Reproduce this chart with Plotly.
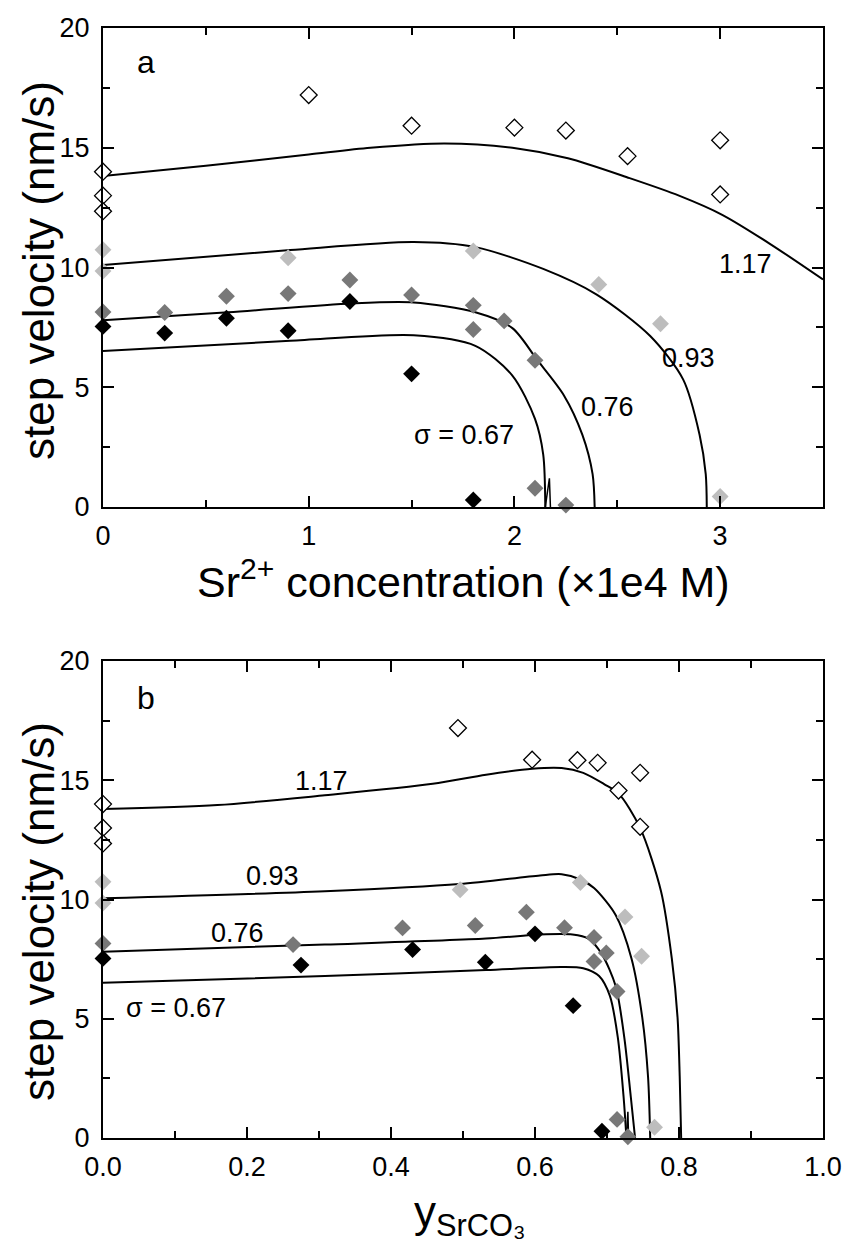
import plotly.graph_objects as go

W, H = 847, 1243

# ---------------- Panel a : data vs Sr2+ concentration (x1e4 M) ----------------
a117_x = [0, 0, 0, 1.0, 1.5, 2.0, 2.25, 2.55, 3.0, 3.0]
a117_y = [14.0, 13.0, 12.35, 17.2, 15.92, 15.84, 15.72, 14.65, 15.31, 13.05]
a093_x = [0, 0, 0.9, 1.8, 2.41, 2.71, 3.0]
a093_y = [10.74, 9.85, 10.41, 10.69, 9.29, 7.65, 0.44]
a076_x = [0, 0.3, 0.6, 0.9, 1.2, 1.5, 1.8, 1.8, 1.95, 2.1, 2.1, 2.25]
a076_y = [8.14, 8.12, 8.8, 8.91, 9.48, 8.85, 8.42, 7.41, 7.77, 6.13, 0.78, 0.08]
a067_x = [0, 0.3, 0.6, 0.9, 1.2, 1.5, 1.8]
a067_y = [7.54, 7.26, 7.88, 7.36, 8.58, 5.56, 0.29]

# model curves, panel a
fa117_x = [0, 0.5, 1.0, 1.3, 1.66, 1.99, 2.26, 2.56, 2.8, 3.01, 3.24, 3.5]
fa117_y = [13.82, 14.25, 14.72, 15.0, 15.18, 15.0, 14.56, 13.73, 13.0, 12.2, 11.0, 9.5]
fa093_x = [0, 0.91, 1.51, 1.81, 2.14, 2.40, 2.66, 2.82, 2.90, 2.93, 2.935]
fa093_y = [10.1, 10.73, 11.06, 10.85, 9.94, 8.87, 7.14, 5.33, 3.02, 1.37, 0]
fa076_x = [0, 0.61, 1.21, 1.51, 1.81, 1.99, 2.11, 2.24, 2.33, 2.38, 2.39]
fa076_y = [7.8, 8.13, 8.5, 8.54, 8.13, 7.47, 6.15, 4.67, 3.02, 1.37, 0]
fa067_x = [0, 0.91, 1.51, 1.81, 1.99, 2.10, 2.14, 2.15]
fa067_y = [6.51, 6.94, 7.17, 6.73, 5.49, 3.68, 2.19, 0]
fa067_tail_x = [2.15, 2.17, 2.175]
fa067_tail_y = [0, 1.2, 0]

# ---------------- Panel b : data vs y_SrCO3 ----------------
b117_x = [0, 0, 0, 0.493, 0.596, 0.659, 0.687, 0.716, 0.746, 0.746]
b117_y = [14.0, 13.0, 12.35, 17.19, 15.86, 15.84, 15.73, 14.57, 15.31, 13.05]
b093_x = [0, 0, 0.496, 0.663, 0.725, 0.748, 0.766]
b093_y = [10.74, 9.85, 10.41, 10.71, 9.27, 7.62, 0.45]
b076_x = [0, 0.264, 0.416, 0.517, 0.588, 0.641, 0.682, 0.682, 0.699, 0.714, 0.714, 0.729]
b076_y = [8.16, 8.11, 8.81, 8.91, 9.47, 8.82, 8.41, 7.40, 7.76, 6.14, 0.78, 0.05]
b067_x = [0, 0.275, 0.430, 0.531, 0.600, 0.653, 0.693]
b067_y = [7.53, 7.25, 7.90, 7.37, 8.56, 5.55, 0.28]

fb117_x = [0, 0.159, 0.308, 0.458, 0.532, 0.596, 0.637, 0.667, 0.697, 0.716, 0.746, 0.775, 0.790, 0.798, 0.801, 0.803]
fb117_y = [13.79, 13.96, 14.37, 14.85, 15.23, 15.48, 15.51, 15.31, 14.82, 14.45, 13.0, 10.35, 7.53, 5.05, 2.57, 0]
fb093_x = [0, 0.308, 0.495, 0.607, 0.637, 0.663, 0.682, 0.712, 0.734, 0.749, 0.757, 0.760]
fb093_y = [10.05, 10.35, 10.65, 11.01, 11.06, 10.84, 10.48, 9.35, 7.53, 5.05, 2.57, 0]
fb076_x = [0, 0.308, 0.532, 0.607, 0.652, 0.674, 0.693, 0.712, 0.724, 0.733, 0.739]
fb076_y = [7.81, 8.11, 8.36, 8.53, 8.53, 8.36, 7.70, 6.37, 4.22, 1.74, 0]
fb067_x = [0, 0.308, 0.532, 0.637, 0.667, 0.689, 0.704, 0.715, 0.723, 0.727]
fb067_y = [6.51, 6.79, 7.04, 7.17, 7.12, 6.79, 5.96, 4.22, 1.74, 0]
fb067_tail_x = [0.727, 0.729, 0.730]
fb067_tail_y = [0, 1.1, 0]

sigma_labels = ["1.17", "0.93", "0.76", "σ = 0.67"]

LIGHT = "#BDBDBD"
MID = "#787878"
BLACK = "#000000"
FONT = "Liberation Sans, Arial, Helvetica, sans-serif"

fig = go.Figure()


def add_panel(xa, ya, curves, tails, pts):
    for cx, cy in curves:
        fig.add_trace(go.Scatter(x=cx, y=cy, mode="lines", xaxis=xa, yaxis=ya,
                                 line=dict(color="black", width=2, shape="spline", smoothing=0.8),
                                 showlegend=False, hoverinfo="skip"))
    for tx, ty in tails:
        fig.add_trace(go.Scatter(x=tx, y=ty, mode="lines", xaxis=xa, yaxis=ya,
                                 line=dict(color="black", width=1.5),
                                 showlegend=False, hoverinfo="skip"))
    for (px, py), color, open_ in pts:
        if open_:
            marker = dict(symbol="diamond", size=13, color="white",
                          line=dict(color="black", width=1.3))
        else:
            marker = dict(symbol="diamond", size=13, color=color, line=dict(width=0))
        fig.add_trace(go.Scatter(x=px, y=py, mode="markers", xaxis=xa, yaxis=ya,
                                 marker=marker, cliponaxis=False, showlegend=False))


add_panel("x", "y",
          [(fa117_x, fa117_y), (fa093_x, fa093_y), (fa076_x, fa076_y), (fa067_x, fa067_y)],
          [(fa067_tail_x, fa067_tail_y)],
          [((a117_x, a117_y), "white", True), ((a093_x, a093_y), LIGHT, False),
           ((a076_x, a076_y), MID, False), ((a067_x, a067_y), BLACK, False)])
add_panel("x2", "y2",
          [(fb117_x, fb117_y), (fb093_x, fb093_y), (fb076_x, fb076_y), (fb067_x, fb067_y)],
          [(fb067_tail_x, fb067_tail_y)],
          [((b117_x, b117_y), "white", True), ((b093_x, b093_y), LIGHT, False),
           ((b076_x, b076_y), MID, False), ((b067_x, b067_y), BLACK, False)])

xdom = [103 / W, 823 / W]
top_dom = [1 - 507 / H, 1 - 28 / H]
bot_dom = [1 - 1138 / H, 1 - 661 / H]

axis_common = dict(showline=True, linewidth=2, linecolor="black", mirror="allticks",
                   ticks="inside", ticklen=11, tickwidth=2, tickcolor="black",
                   showgrid=False, zeroline=False, automargin=False,
                   tickfont=dict(family=FONT, size=27, color="black"))
minor_common = dict(ticks="inside", ticklen=7, tickwidth=2, tickcolor="black", showgrid=False)

fig.update_layout(
    template="none",
    width=W, height=H, margin=dict(l=0, r=0, t=0, b=0, pad=0, autoexpand=False),
    paper_bgcolor="white", plot_bgcolor="white",
    font=dict(family=FONT, color="black"),
    xaxis=dict(domain=xdom, anchor="y", range=[0, 3.5], tick0=0, dtick=1,
               minor=dict(dtick=0.5, **minor_common), ticklabelstandoff=4, **axis_common),
    yaxis=dict(domain=top_dom, anchor="x", range=[0, 20], tick0=0, dtick=5,
               minor=dict(dtick=2.5, **minor_common), ticklabelstandoff=6, **axis_common),
    xaxis2=dict(domain=xdom, anchor="y2", range=[0, 1.0], tick0=0, dtick=0.2, tickformat=".1f",
                minor=dict(dtick=0.1, **minor_common), ticklabelstandoff=4, **axis_common),
    yaxis2=dict(domain=bot_dom, anchor="x2", range=[0, 20], tick0=0, dtick=5,
                minor=dict(dtick=2.5, **minor_common), ticklabelstandoff=6, **axis_common),
)

ann = []
lab_font = dict(family=FONT, size=27, color="black")
# panel letters
ann.append(dict(x=0.208, y=18.56, xref="x", yref="y", text="a", showarrow=False,
                font=dict(family=FONT, size=32, color="black")))
ann.append(dict(x=0.06, y=18.46, xref="x2", yref="y2", text="b", showarrow=False,
                font=dict(family=FONT, size=32, color="black")))
# curve labels panel a
for txt, lx, ly in zip(sigma_labels, [3.124, 2.847, 2.452, 1.754], [10.16, 6.23, 4.17, 3.02]):
    ann.append(dict(x=lx, y=ly, xref="x", yref="y", text=txt, showarrow=False, font=lab_font))
# curve labels panel b
for txt, lx, ly in zip(sigma_labels, [0.303, 0.236, 0.187, 0.101], [14.98, 11.0, 8.61, 5.46]):
    ann.append(dict(x=lx, y=ly, xref="x2", yref="y2", text=txt, showarrow=False, font=lab_font))
# axis titles
ytitle_font = dict(family=FONT, size=44, color="black")
xtitle_font = dict(family=FONT, size=43, color="black")
ann.append(dict(x=38 / W, y=1 - 271 / H, xref="paper", yref="paper", text="step velocity (nm/s)",
                textangle=-90, showarrow=False, font=ytitle_font, xanchor="center", yanchor="middle"))
ann.append(dict(x=38 / W, y=1 - 912 / H, xref="paper", yref="paper", text="step velocity (nm/s)",
                textangle=-90, showarrow=False, font=ytitle_font, xanchor="center", yanchor="middle"))
ann.append(dict(x=463 / W, y=1 - 579 / H, xref="paper", yref="paper",
                text="Sr<sup>2+</sup> concentration (×1e4 M)", showarrow=False,
                font=xtitle_font, xanchor="center", yanchor="middle"))
ann.append(dict(x=470 / W, y=1 - 1215 / H, xref="paper", yref="paper",
                text="y<sub>SrCO₃</sub>", showarrow=False,
                font=dict(family=FONT, size=44, color="black"), xanchor="center", yanchor="middle"))
fig.update_layout(annotations=ann)

fig.write_html("out.html")
